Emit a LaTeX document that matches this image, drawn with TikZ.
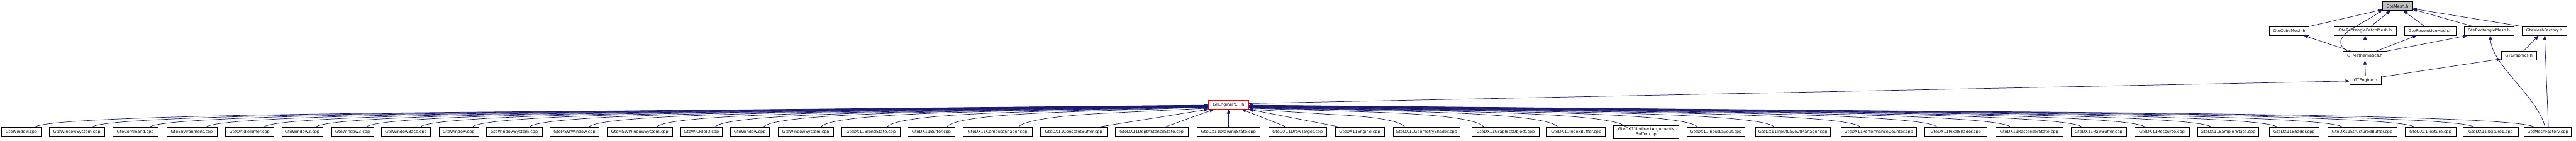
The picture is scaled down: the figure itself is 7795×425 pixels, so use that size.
\documentclass[tikz,border=0pt]{standalone}
\usepackage{fontspec}
\setsansfont{DejaVu Sans}
\usepackage{tikz}
\usetikzlibrary{arrows.meta,shadows}
\definecolor{edgeblue}{RGB}{25,25,112}
\definecolor{rootgrey}{RGB}{191,191,191}

\begin{document}
\begin{tikzpicture}[
    x=1pt, y=1pt,
    file/.style={draw=black, fill=white, line width=1pt, minimum width=#1, minimum height=26.5pt, inner sep=0pt, align=center,
      font=\sffamily\fontsize{12.3}{14.5}\selectfont,
      drop shadow={shadow xshift=1pt, shadow yshift=-1.5pt, fill=black!55, opacity=1}},
    root/.style={file=#1, draw=red},
    top/.style={file=#1, fill=rootgrey},
    dep/.style={-{Triangle[length=13pt,width=10pt]}, draw=edgeblue, line width=1.4pt}
]
\fill[white] (0,0) rectangle (7795,-425);
\useasboundingbox (0,0) rectangle (7795,-425);

% headers at the top
\node[top=91pt] (mesh) at (7254.5,-18.5) {GteMesh.h};
\node[file=120pt] (cube) at (6927,-93.5) {GteCubeMesh.h};
\node[file=188pt] (patch) at (7157,-93.5) {GteRectanglePatchMesh.h};
\node[file=157pt] (revol) at (7353.5,-93.5) {GteRevolutionMesh.h};
\node[file=151pt] (rect) at (7531.5,-93.5) {GteRectangleMesh.h};
\node[file=134pt] (facth) at (7699,-93.5) {GteMeshFactory.h};
\node[file=132pt] (math) at (7156,-168.5) {GTMathematics.h};
\node[file=106pt] (graph) at (7622,-168.5) {GTGraphics.h};
\node[file=94pt] (engine) at (7158,-242.5) {GTEngine.h};

% the precompiled header
\node[root=122pt] (pch) at (3717.5,-317) {GTEnginePCH.h};

% source files, left part
\node[file=119pt] (b1) at (64.5,-399) {GteWindow.cpp};
\node[file=167pt] (b2) at (232.5,-399) {GteWindowSystem.cpp};
\node[file=137pt] (b3) at (409.5,-399) {GteCommand.cpp};
\node[file=153pt] (b4) at (580.5,-399) {GteEnvironment.cpp};
\node[file=148pt] (b5) at (755,-399) {GteOnIdleTimer.cpp};
\node[file=123pt] (b6) at (914.5,-399) {GteWindow2.cpp};
\node[file=128pt] (b7) at (1067,-399) {GteWindow3.cpp};
\node[file=149pt] (b8) at (1228.5,-399) {GteWindowBase.cpp};
\node[file=120pt] (b9) at (1388,-399) {GteWindow.cpp};
\node[file=168pt] (b10) at (1556,-399) {GteWindowSystem.cpp};
\node[file=149pt] (b11) at (1738.5,-399) {GteMSWWindow.cpp};
\node[file=198pt] (b12) at (1936,-399) {GteMSWWindowSystem.cpp};
\node[file=127pt] (b13) at (2122.5,-399) {GteWICFileIO.cpp};
\node[file=118pt] (b14) at (2269,-399) {GteWindow.cpp};
\node[file=168pt] (b15) at (2438,-399) {GteWindowSystem.cpp};
\node[file=177pt] (b16) at (2635.5,-399) {GteDX11BlendState.cpp};
\node[file=143pt] (b17) at (2818.5,-399) {GteDX11Buffer.cpp};
\node[file=209pt] (b18) at (3018.5,-399) {GteDX11ComputeShader.cpp};
\node[file=200pt] (b19) at (3249,-399) {GteDX11ConstantBuffer.cpp};
\node[file=222pt] (b20) at (3485,-399) {GteDX11DepthStencilState.cpp};

% source files, right part
\node[file=191pt] (b21) at (3717.5,-399) {GteDX11DrawingState.cpp};
\node[file=175pt] (b22) at (3926.5,-399) {GteDX11DrawTarget.cpp};
\node[file=149pt] (b23) at (4114.5,-399) {GteDX11Engine.cpp};
\node[file=203pt] (b24) at (4316.5,-399) {GteDX11GeometryShader.cpp};
\node[file=204pt] (b25) at (4556,-399) {GteDX11GraphicsObject.cpp};
\node[file=177pt] (b26) at (4769.5,-399) {GteDX11IndexBuffer.cpp};
\node[file=198pt, minimum height=40pt] (b27) at (4981,-399) {GteDX11IndirectArguments\\Buffer.cpp};
\node[file=175pt] (b28) at (5192.5,-399) {GteDX11InputLayout.cpp};
\node[file=228pt] (b29) at (5425,-399) {GteDX11InputLayoutManager.cpp};
\node[file=230pt] (b30) at (5685,-399) {GteDX11PerformanceCounter.cpp};
\node[file=190pt] (b31) at (5918,-399) {GteDX11PixelShader.cpp};
\node[file=204pt] (b32) at (6140,-399) {GteDX11RasterizerState.cpp};
\node[file=167pt] (b33) at (6350.5,-399) {GteDX11RawBuffer.cpp};
\node[file=166pt] (b34) at (6542,-399) {GteDX11Resource.cpp};
\node[file=186pt] (b35) at (6742,-399) {GteDX11SamplerState.cpp};
\node[file=152pt] (b36) at (6942,-399) {GteDX11Shader.cpp};
\node[file=210pt] (b37) at (7148,-399) {GteDX11StructuredBuffer.cpp};
\node[file=153pt] (b38) at (7354.5,-399) {GteDX11Texture.cpp};
\node[file=168pt] (b39) at (7537,-399) {GteDX11Texture1.cpp};
\node[file=143pt] (b40) at (7709.5,-399) {GteMeshFactory.cpp};

% edges between the headers
\draw[dep] (cube.north east) -- ([yshift=3pt]mesh.south west);
\draw[dep] ([xshift=-53pt]math.north) .. controls +(-70pt,45pt) and +(-45pt,-40pt) .. ([yshift=4pt]mesh.south west);
\draw[dep] ([xshift=17pt]patch.north) -- ([xshift=-21pt]mesh.south);
\draw[dep] ([xshift=-16pt]revol.north) -- ([xshift=18pt]mesh.south);
\draw[dep] ([xshift=-48pt]rect.north) -- ([yshift=4pt]mesh.south east);
\draw[dep] (facth.north west) -- ([yshift=6pt]mesh.south east);
\draw[dep] ([xshift=-42pt]math.north) -- ([xshift=44pt]cube.south);
\draw[dep] (math.north) -- (patch.south);
\draw[dep] ([xshift=34pt]math.north) -- ([xshift=-40pt]revol.south);
\draw[dep] (math.north east) -- ([xshift=11pt]rect.south west);
\draw[dep] ([xshift=14pt]graph.north) -- ([xshift=-17pt]facth.south);
\draw[dep] (engine.north) -- (math.south);
\draw[dep] ([yshift=-4pt]engine.north east) -- ([yshift=4pt]graph.south west);
\draw[dep] ([yshift=4pt]pch.east) -- ([yshift=-2.5pt]engine.west);
\draw[dep] ([xshift=-8pt]b40.north) .. controls +(-20pt,90pt) and +(5pt,-90pt) .. ([xshift=4pt]rect.south);
\draw[dep] ([xshift=2pt]b40.north) -- ([xshift=1pt]facth.south);

% edges into the left side: long bend, then straight
\draw[dep] ([xshift=40pt]b1.north) .. controls +(20,40) and +(-426,-4) .. ++(1776,50) -- ([yshift=-1pt]pch.west);
\draw[dep] ([xshift=45pt]b2.north) .. controls +(20,40) and +(-405,-4) .. ++(1689.5,50) -- ([yshift=-1.4pt]pch.west);
\draw[dep] ([xshift=42pt]b3.north) .. controls +(20,40) and +(-385,-4) .. ++(1602.5,50) -- ([yshift=-1.75pt]pch.west);
\draw[dep] ([xshift=42pt]b4.north) .. controls +(20,40) and +(-364,-4) .. ++(1517,50) -- ([yshift=-2.1pt]pch.west);
\draw[dep] ([xshift=42pt]b5.north) .. controls +(20,40) and +(-343,-4) .. ++(1430,50) -- ([yshift=-2.5pt]pch.west);
\draw[dep] ([xshift=40pt]b6.north) .. controls +(20,40) and +(-324,-4) .. ++(1351,50) -- ([yshift=-2.9pt]pch.west);
\draw[dep] ([xshift=40pt]b7.north) .. controls +(20,40) and +(-306,-4) .. ++(1275,50) -- ([yshift=-3.25pt]pch.west);
\draw[dep] ([xshift=42pt]b8.north) .. controls +(20,40) and +(-286,-4) .. ++(1193,50) -- ([yshift=-3.6pt]pch.west);
\draw[dep] ([xshift=40pt]b9.north) .. controls +(20,40) and +(-267,-4) .. ++(1114,50) -- ([yshift=-4pt]pch.west);
\draw[dep] ([xshift=45pt]b10.north) .. controls +(20,40) and +(-247,-4) .. ++(1028,50) -- ([yshift=-4.4pt]pch.west);
\draw[dep] ([xshift=42pt]b11.north) .. controls +(20,40) and +(-225,-4) .. ++(938,50) -- ([yshift=-4.75pt]pch.west);
\draw[dep] ([xshift=50pt]b12.north) .. controls +(20,40) and +(-200,-4) .. ++(835,50) -- ([yshift=-5.1pt]pch.west);
\draw[dep] ([xshift=40pt]b13.north) .. controls +(20,40) and +(-179,-4) .. ++(747,50) -- ([yshift=-5.5pt]pch.west);
\draw[dep] ([xshift=40pt]b14.north) .. controls +(20,40) and +(-162,-4) .. ++(674,50) -- ([yshift=-5.9pt]pch.west);
\draw[dep] ([xshift=45pt]b15.north) .. controls +(20,40) and +(-141,-4) .. ++(587,50) -- ([yshift=-6.25pt]pch.west);
\draw[dep] ([xshift=48pt]b16.north) .. controls +(20,38) and +(-117,-4) .. ++(486,49) -- ([yshift=-6.6pt]pch.west);
\draw[dep] ([xshift=45pt]b17.north) .. controls +(20,36) and +(-95,-4) .. ++(396,48) -- ([yshift=-7pt]pch.west);
\draw[dep] ([xshift=62pt]b18.north) .. controls +(20,30) and +(-69,-3) .. ++(288,44) -- ([yshift=-10pt]pch.west);
\draw[dep] ([xshift=66pt]b19.north) -- (pch.south west);
\draw[dep] ([xshift=36pt]b20.north) -- ([xshift=-44pt]pch.south);

% edges from below and into the right side
\draw[dep] (b21.north) -- (pch.south);
\draw[dep] ([xshift=-30pt]b22.north) -- ([xshift=40pt]pch.south);
\draw[dep] ([xshift=-53pt]b23.north) -- (pch.south east);
\draw[dep] ([xshift=-64pt]b24.north) .. controls +(-20,30) and +(57,-3) .. ++(-237,40) -- ([yshift=-13pt]pch.east);
\draw[dep] ([xshift=-65pt]b25.north) .. controls +(-20,36) and +(85,-3) .. ++(-356,47) -- ([yshift=-10pt]pch.east);
\draw[dep] ([xshift=-55pt]b26.north) .. controls +(-20,38) and +(112,-4) .. ++(-468,49) -- ([yshift=-9.4pt]pch.east);
\draw[dep] ([xshift=-60pt,yshift=-7pt]b27.north) .. controls +(-20,40) and +(137,-4) .. ++(-571,50) -- ([yshift=-8.8pt]pch.east);
\draw[dep] ([xshift=-55pt]b28.north) .. controls +(-20,40) and +(163,-4) .. ++(-679.5,50) -- ([yshift=-8.2pt]pch.east);
\draw[dep] ([xshift=-55pt]b29.north) .. controls +(-20,40) and +(191,-4) .. ++(-796,50) -- ([yshift=-7.6pt]pch.east);
\draw[dep] ([xshift=-55pt]b30.north) .. controls +(-20,40) and +(222,-4) .. ++(-926,50) -- ([yshift=-7pt]pch.east);
\draw[dep] ([xshift=-55pt]b31.north) .. controls +(-20,40) and +(250,-4) .. ++(-1042,50) -- ([yshift=-6.4pt]pch.east);
\draw[dep] ([xshift=-55pt]b32.north) .. controls +(-20,40) and +(277,-4) .. ++(-1153,50) -- ([yshift=-5.8pt]pch.east);
\draw[dep] ([xshift=-50pt]b33.north) .. controls +(-20,40) and +(303,-4) .. ++(-1261,50) -- ([yshift=-5.2pt]pch.east);
\draw[dep] ([xshift=-50pt]b34.north) .. controls +(-20,40) and +(326,-4) .. ++(-1357,50) -- ([yshift=-4.6pt]pch.east);
\draw[dep] ([xshift=-50pt]b35.north) .. controls +(-20,40) and +(350,-4) .. ++(-1457,50) -- ([yshift=-4pt]pch.east);
\draw[dep] ([xshift=-50pt]b36.north) .. controls +(-20,40) and +(374,-4) .. ++(-1557,50) -- ([yshift=-3.4pt]pch.east);
\draw[dep] ([xshift=-59pt]b37.north) .. controls +(-20,40) and +(397,-4) .. ++(-1655,50) -- ([yshift=-2.8pt]pch.east);
\draw[dep] ([xshift=-47pt]b38.north) .. controls +(-20,40) and +(423,-4) .. ++(-1764.5,50) -- ([yshift=-2.2pt]pch.east);
\draw[dep] ([xshift=-50pt]b39.north) .. controls +(-20,40) and +(445,-4) .. ++(-1854,50) -- ([yshift=-1.6pt]pch.east);
\draw[dep] ([xshift=-40pt]b40.north) .. controls +(-20,40) and +(467,-4) .. ++(-1945.5,50) -- ([yshift=-1pt]pch.east);
\end{tikzpicture}
\end{document}
